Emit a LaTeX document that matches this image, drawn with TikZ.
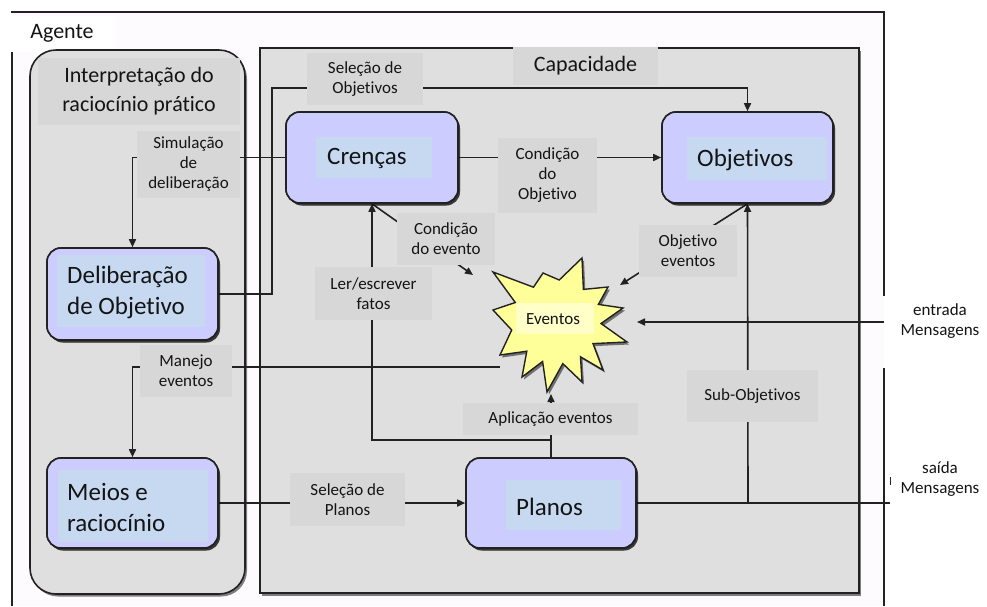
\documentclass[tikz,border=0pt]{standalone}
\usepackage{fontspec}
\setmainfont{Carlito}[Ligatures=NoCommon]
\usetikzlibrary{arrows.meta,shadows}

\definecolor{agbg}{HTML}{FDFBFE}
\definecolor{panel}{HTML}{DFDFDF}
\definecolor{tag}{HTML}{D7D7D7}
\definecolor{lav}{HTML}{CCCCFF}
\definecolor{lavin}{HTML}{C6D9F1}
\definecolor{starfill}{HTML}{FFFF99}
\definecolor{starin}{HTML}{FFFFC8}
\definecolor{ink}{HTML}{141414}
\definecolor{edge}{HTML}{222222}

\tikzset{
  shade2/.style={drop shadow={shadow xshift=2pt,shadow yshift=-2.5pt,opacity=.5,fill=black}},
  panelbox/.style={draw=edge, line width=1.6pt, fill=panel, shade2},
  procbox/.style={draw=edge, line width=1.6pt, fill=lav, rounded corners=14pt, shade2, inner sep=0pt},
  inrect/.style={fill=lavin, draw=none, inner sep=0pt},
  bigtxt/.style={font=\fontsize{25}{31}\selectfont, text=ink, align=left, inner sep=0pt},
  tagbox/.style={fill=tag, inner sep=0pt, font=\fontsize{17}{20}\selectfont, text=ink, align=center},
  plaintxt/.style={inner sep=0pt, font=\fontsize{17}{20}\selectfont, text=ink, align=center},
  conn/.style={draw=edge, line width=1.6pt},
  arr/.style={conn, -{Triangle[length=8pt,width=7pt]}},
  frameline/.style={draw=edge, line width=1.8pt},
}

\begin{document}
\begin{tikzpicture}[x=1pt,y=-1pt]
\useasboundingbox (0,0) rectangle (987,606);
\fill[white] (0,0) rectangle (987,606);

% agent area and its white caption patch
\fill[agbg] (12,12) rectangle (884,606);
\fill[white] (8,16) rectangle (115,52);

% panels
\path[panelbox, rounded corners=26pt] (30,50) rectangle (245,594);
\path[panelbox] (260,48) rectangle (859,593);

% named coordinates for the free ends
\coordinate (selO) at (272,88);
\coordinate (evtIn) at (637,322);
\coordinate (msgIn) at (884,322);
\coordinate (msgOut) at (890,503);
\coordinate (subO) at (748,503);
\coordinate (evtNW) at (473,275);
\coordinate (evtNE) at (620,285);
\coordinate (evtW) at (500,367);
\coordinate (evtS) at (551,394);
\coordinate (apl) at (551,440);

% process boxes (placed first so anchors exist)
\node[procbox, minimum width=172pt, minimum height=91pt] (cren) at (372,157.5) {};
\node[procbox, minimum width=171pt, minimum height=91pt] (obj) at (747.5,157.5) {};
\node[procbox, minimum width=171pt, minimum height=92pt] (delib) at (132.5,294) {};
\node[procbox, minimum width=171pt, minimum height=90pt] (meios) at (132.5,503) {};
\node[procbox, minimum width=170pt, minimum height=90pt] (planos) at (551,503) {};

% connectors
\draw[arr] (delib.east) -| (selO) -| (obj.north);
\draw[arr] (cren.west) -| (delib.north);
\draw[arr] (cren.east) -- (obj.west);
\draw[arr] (cren.south) -- (evtNW);
\draw[arr] (obj.south) -- (evtNE);
\draw[arr] (msgIn) -- (evtIn);
\draw[arr] (evtW) -| (meios.north);
\draw[arr] (planos.north) -- (apl) -| (cren.south);
\draw[arr] (apl) -- (evtS);
\draw[arr] (meios.east) -- (planos.west);
\draw[conn] (planos.east) -- (msgOut);
\draw[arr] (subO) -- (obj.south);

% redraw process boxes over the lines
\node[procbox, minimum width=172pt, minimum height=91pt] at (cren) {};
\node[procbox, minimum width=171pt, minimum height=91pt] at (obj) {};
\node[procbox, minimum width=171pt, minimum height=92pt] at (delib) {};
\node[procbox, minimum width=171pt, minimum height=90pt] at (meios) {};
\node[procbox, minimum width=170pt, minimum height=90pt] at (planos) {};

% box captions
\node[inrect, minimum width=116pt, minimum height=41pt] (crenIn) at (374,157.5) {};
\node[bigtxt, anchor=west] (crenT) at (327,158) {Crenças};
\node[inrect, minimum width=140pt, minimum height=43pt] (objIn) at (757,158.5) {};
\node[bigtxt, anchor=west] (objT) at (697,160) {Objetivos};
\node[inrect, minimum width=148pt, minimum height=72pt] (delibIn) at (131,291) {};
\node[bigtxt, anchor=west] (delibT) at (67,292) {Deliberação\\de Objetivo};
\node[inrect, minimum width=150pt, minimum height=72pt] (meiosIn) at (133,506) {};
\node[bigtxt, anchor=west] (meiosT) at (67,507) {Meios e\\raciocínio};
\node[inrect, minimum width=115pt, minimum height=50pt] (planosIn) at (563.5,505) {};
\node[bigtxt, anchor=west] (planosT) at (516,507) {Planos};

% events burst
\coordinate (evtC) at (557,322);
\path[draw=edge, line width=1.4pt, fill=starfill, shade2]
  (493,272) -- (533.5,287.2) -- (543,273) -- (559.2,280) -- (582,258) -- (583.4,289.4)
  -- (608,287) -- (598.4,304.4) -- (623,308) -- (601,323.5) -- (627,342) -- (593,343.6)
  -- (603,370) -- (580.5,356.8) -- (582,382) -- (562.8,363.6) -- (547,392) -- (542.6,361.5)
  -- (522,377) -- (526.8,351.2) -- (500,355) -- (511.7,330) -- (493,310) -- (515.3,302.5) -- cycle;
\node[fill=starin, minimum width=78pt, minimum height=31pt, inner sep=0pt] (evtIn2) at (555,318.5) {};
\node[plaintxt] (evtT) at (553,319) {Eventos};

% panel titles
\node[tagbox, minimum width=202pt, minimum height=67pt, font=\fontsize{22}{29}\selectfont] (interpT) at (139,91.5) {Interpretação do\\raciocínio prático};
\node[tagbox, minimum width=145pt, minimum height=38pt, font=\fontsize{22}{26}\selectfont] (capT) at (585.5,66) {Capacidade};

% connector labels
\node[tagbox, minimum width=116pt, minimum height=52pt] (lSelO) at (365,79) {Seleção de\\Objetivos};
\node[tagbox, minimum width=103pt, minimum height=67pt] (lSim) at (188.5,164) {Simulação\\de\\deliberação};
\node[tagbox, minimum width=99pt, minimum height=75pt] (lCond) at (547.5,175) {Condição\\do\\Objetivo};
\node[tagbox, minimum width=98pt, minimum height=52pt] (lCev) at (446,239) {Condição\\do evento};
\node[tagbox, minimum width=98pt, minimum height=52pt] (lOev) at (688,251) {Objetivo\\eventos};
\node[tagbox, minimum width=117pt, minimum height=53pt] (lLer) at (373.5,293.5) {Ler/escrever\\fatos};
\node[tagbox, minimum width=92pt, minimum height=52pt] (lMan) at (186,371) {Manejo\\eventos};
\node[tagbox, minimum width=175pt, minimum height=32pt] (lApl) at (550.5,419) {Aplicação eventos};
\node[tagbox, minimum width=131pt, minimum height=52pt] (lSub) at (752.5,396) {Sub-Objetivos};
\node[tagbox, minimum width=115pt, minimum height=53pt] (lSelP) at (347.5,499.5) {Seleção de\\Planos};

% message ports
\node[plaintxt] (inMsg) at (940,321) {entrada\\Mensagens};
\node[plaintxt] (outMsg) at (940,479) {saída\\Mensagens};

% agent frame, open at the message ports
\draw[frameline] (12,606) -- (12,52);
\draw[frameline, line cap=rect] (12,12) -- (884,12) -- (884,295);
\draw[frameline] (884,368) -- (884,606);
\draw[edge, line width=1pt] (890,477) -- (890,485);
\node[inner sep=0pt, font=\fontsize{22}{26}\selectfont, text=ink] (agT) at (62,33) {Agente};
\end{tikzpicture}
\end{document}
